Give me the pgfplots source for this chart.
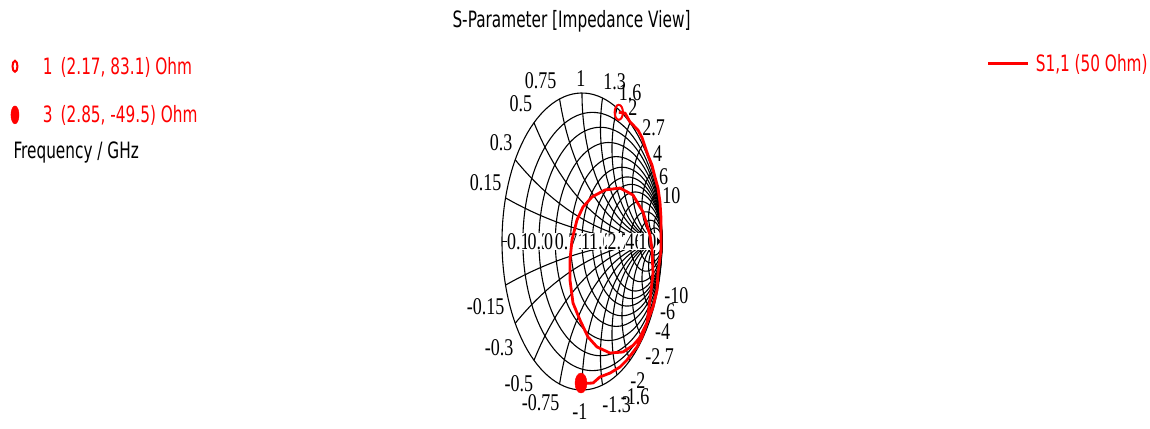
\documentclass[border=0pt]{standalone}
\usepackage{pgfplots}
\pgfplotsset{compat=1.18}
\usepackage{fontspec}
\setmainfont{DejaVu Sans}[FakeStretch=0.68]
\newfontfamily\lblfamily{Liberation Serif}[FakeStretch=0.75]
\newcommand\legfont{\fontsize{22.5bp}{27bp}\selectfont}
\newcommand\tickfont{\lblfamily\fontsize{24bp}{28bp}\selectfont}
\definecolor{cstred}{RGB}{255,0,0}
\pgfplotsset{
  gridline/.style={black, line width=1.1bp, forget plot},
}
\tikzset{
  rlab/.style={font=\tickfont, fill=white, inner sep=0.5bp},
  xlab/.style={font=\tickfont, inner sep=0pt},
}
\begin{document}
\begin{tikzpicture}[x=1bp,y=1bp]
% frame: image pixel (X,Y) -> (X-502, 390-Y)
\path (-502,-38) rectangle (648,390);
\node[font=\legfont, anchor=center] at (69.5,369) {S-Parameter [Impedance View]};
\node[font=\legfont, anchor=base west] at (-492,232) {Frequency / GHz};
\begin{axis}[
  scale only axis, width=160bp, height=297bp,
  xmin=-1, xmax=1, ymin=-1, ymax=1,
  hide axis, clip=false,
  legend style={at={(-3.0875,1.1212)}, anchor=north west, draw=none, fill=none,
    inner sep=0pt, outer sep=0pt, row sep=30bp, column sep=21bp,
    font=\legfont, text=cstred, nodes={inner sep=0pt}},
  legend cell align=left,
]
% ---- Smith chart grid ----
\pgfplotsinvokeforeach{0,0.15,0.3,0.5,0.75,1,1.3,1.6,2,2.7,4,6,10}{
  \addplot[gridline, domain=0:360, samples=120] ({(#1+cos(x))/(1+#1)},{sin(x)/(1+#1)});
}
\pgfplotsinvokeforeach{0.15,0.3,0.5,0.75,1,1.3,1.6,2,2.7,4,6,10}{
  \addplot[gridline, domain={270-2*atan(#1)}:270, samples=70] ({1+cos(x)/#1},{(1+sin(x))/#1});
  \addplot[gridline, domain={270-2*atan(#1)}:270, samples=70] ({1+cos(x)/#1},{-(1+sin(x))/#1});
}
\addplot[gridline] coordinates {(-1,0) (1,0)};
% ---- reactance labels ----
\node[xlab, xshift=-20bp, yshift=15bp] at (axis cs:-0.9560,0.2934) {0.15};
\node[xlab, xshift=-14bp, yshift=17bp] at (axis cs:-0.8349,0.5505) {0.3};
\node[xlab, xshift=-13bp, yshift=19bp] at (axis cs:-0.6,0.8) {0.5};
\node[xlab, xshift=-19bp, yshift=18bp] at (axis cs:-0.28,0.96) {0.75};
\node[xlab, xshift=-1bp, yshift=14bp] at (axis cs:0,1) {1};
\node[xlab, xshift=12bp, yshift=16bp] at (axis cs:0.2565,0.9665) {1.3};
\node[xlab, xshift=13bp, yshift=15bp] at (axis cs:0.4382,0.8989) {1.6};
\node[xlab, xshift=3bp, yshift=15bp] at (axis cs:0.6,0.8) {2};
\node[xlab, xshift=11bp, yshift=17bp] at (axis cs:0.7587,0.6514) {2.7};
\node[xlab, xshift=5bp, yshift=18bp] at (axis cs:0.8824,0.4706) {4};
\node[xlab, xshift=6bp, yshift=17bp] at (axis cs:0.9459,0.3243) {6};
\node[xlab, xshift=11bp, yshift=16bp] at (axis cs:0.9802,0.1980) {10};
\node[xlab, xshift=-20bp, yshift=-22bp] at (axis cs:-0.9560,-0.2934) {-0.15};
\node[xlab, xshift=-16bp, yshift=-24bp] at (axis cs:-0.8349,-0.5505) {-0.3};
\node[xlab, xshift=-15bp, yshift=-23bp] at (axis cs:-0.6,-0.8) {-0.5};
\node[xlab, xshift=-19bp, yshift=-19bp] at (axis cs:-0.28,-0.96) {-0.75};
\node[xlab, xshift=-2bp, yshift=-22bp] at (axis cs:0,-1) {-1};
\node[xlab, xshift=14bp, yshift=-20bp] at (axis cs:0.2565,-0.9665) {-1.3};
\node[xlab, xshift=18bp, yshift=-22bp] at (axis cs:0.4382,-0.8989) {-1.6};
\node[xlab, xshift=8bp, yshift=-20bp] at (axis cs:0.6,-0.8) {-2};
\node[xlab, xshift=17bp, yshift=-18bp] at (axis cs:0.7587,-0.6514) {-2.7};
\node[xlab, xshift=10bp, yshift=-20bp] at (axis cs:0.8824,-0.4706) {-4};
\node[xlab, xshift=10bp, yshift=-22bp] at (axis cs:0.9459,-0.3243) {-6};
\node[xlab, xshift=16bp, yshift=-25bp] at (axis cs:0.9802,-0.1980) {-10};
% ---- resistance labels on the real axis ----
\node[rlab] at (axis cs:-0.7391,0) {0.15};
\node[rlab] at (axis cs:-0.5385,0) {0.3};
\node[rlab] at (axis cs:-0.3333,0) {0.5};
\node[rlab] at (axis cs:-0.1429,0) {0.75};
\node[rlab] at (axis cs:0,0) {1};
\node[rlab] at (axis cs:0.1304,0) {1.3};
\node[rlab] at (axis cs:0.2308,0) {1.6};
\node[rlab] at (axis cs:0.3333,0) {2};
\node[rlab] at (axis cs:0.4595,0) {2.7};
\node[rlab] at (axis cs:0.6,0) {4};
\node[rlab] at (axis cs:0.7143,0) {6};
\node[rlab] at (axis cs:0.8182,0) {10};
% ---- S1,1 trace ----
\addplot[cstred, line width=2.8bp, line join=round, forget plot] coordinates {
 (0.46,0.87) (0.5375,0.865) (0.60,0.805) (0.6375,0.785) (0.70,0.75) (0.75,0.70)
 (0.7875,0.64) (0.825,0.58) (0.875,0.515) (0.9125,0.434) (0.95,0.36) (0.975,0.266)
 (0.9875,0.158) (0.9875,0.044) (0.9875,-0.057) (0.95,-0.212) (0.9375,-0.327)
 (0.8875,-0.441) (0.8125,-0.549)
 (0.72,-0.65) (0.6375,-0.70) (0.5125,-0.744) (0.35,-0.751) (0.1875,-0.71)
 (0.075,-0.643) (-0.025,-0.529) (-0.1125,-0.414) (-0.15,-0.26) (-0.15,-0.125)
 (-0.125,0.01) (-0.0625,0.145) (0.0125,0.232) (0.125,0.30) (0.2875,0.347)
 (0.475,0.36) (0.6375,0.313) (0.7625,0.199) (0.85,0.044) (0.875,-0.05)
 (0.8875,-0.212) (0.85,-0.394) (0.8125,-0.549)
 (0.75,-0.643) (0.6875,-0.71) (0.5625,-0.798) (0.475,-0.845) (0.35,-0.886)
 (0.225,-0.912) (0.1375,-0.953) (0.05,-0.955) (-0.0125,-0.953)
};
% ---- markers ----
\addplot[cstred, only marks, mark=o, mark size=7.5bp,
  mark options={xscale=0.55, line width=2bp},
  legend image code/.code={\path[draw=none, fill=none] (0bp,-6bp) -- (14bp,6bp);
    \draw[cstred, line width=2bp, only marks, mark=o, mark size=5.5bp, mark options={xscale=0.45}] plot coordinates {(7bp,0bp)};}]
  coordinates {(0.46,0.87)};
\addlegendentry{1\hspace{8bp}(2.17, 83.1) Ohm}
\addplot[cstred, only marks, mark=*, mark size=10bp,
  mark options={xscale=0.6, fill=cstred},
  legend image code/.code={\path[draw=none, fill=none] (0bp,-6bp) -- (14bp,6bp);
    \draw[cstred, only marks, mark=*, mark size=9bp, mark options={xscale=0.45, fill=cstred, draw=cstred}] plot coordinates {(7bp,0bp)};}]
  coordinates {(-0.0125,-0.953)};
\addlegendentry{3\hspace{8bp}(2.85, -49.5) Ohm}
\end{axis}
\begin{axis}[
  scale only axis, width=160bp, height=297bp,
  xmin=-1, xmax=1, ymin=-1, ymax=1,
  hide axis, clip=false,
  legend style={at={(3.03125,1.1313)}, anchor=north west, draw=none, fill=none,
    inner sep=0pt, outer sep=0pt, column sep=6bp,
    font=\legfont, text=cstred, nodes={inner sep=0pt}},
  legend cell align=left,
  legend image code/.code={\draw[#1] (0bp,0bp) -- (40bp,0bp);},
]
\addlegendimage{cstred, line width=2.8bp}
\addlegendentry{S1,1 (50 Ohm)}
\end{axis}
\end{tikzpicture}
\end{document}
